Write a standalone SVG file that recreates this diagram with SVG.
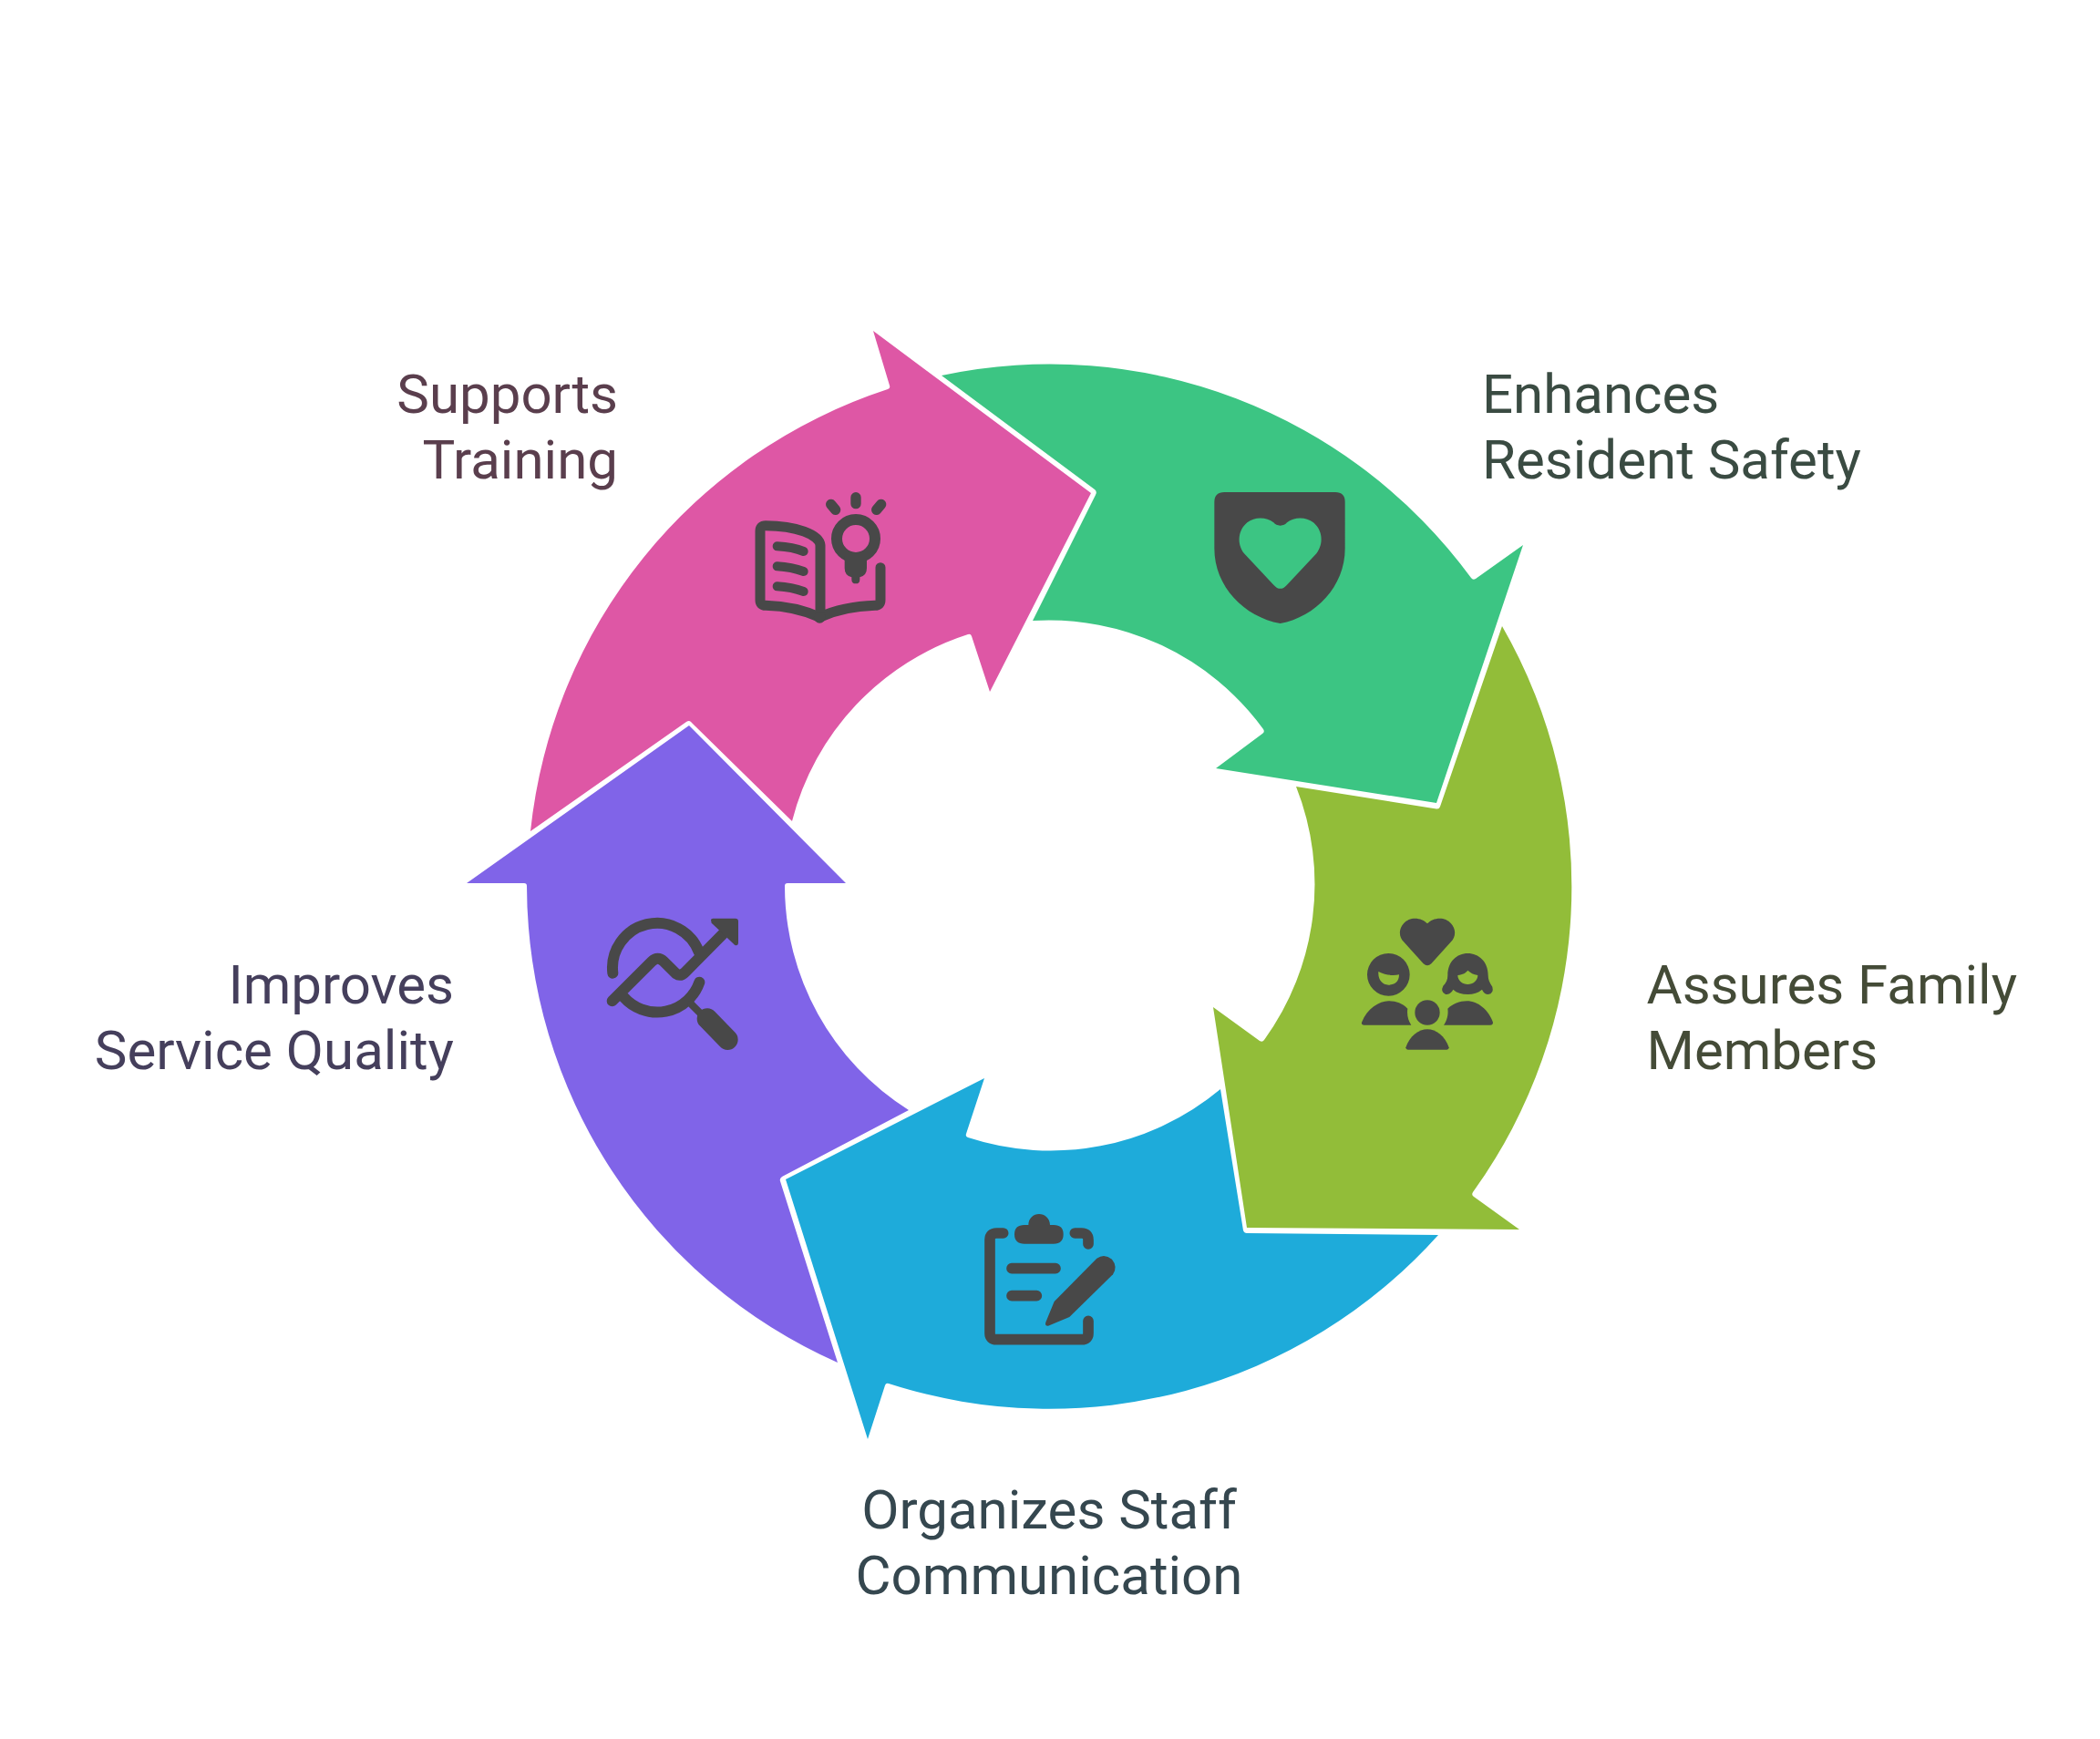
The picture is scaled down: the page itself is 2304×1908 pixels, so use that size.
<svg xmlns="http://www.w3.org/2000/svg" width="2304" height="1908" viewBox="0 0 2304 1908">
<style>
.lbl{font-family:Roboto,"Liberation Sans",sans-serif;font-size:60px}
.ic{fill:#484848;fill-rule:evenodd}
.st{fill:none;stroke:#484848;stroke-linecap:round;stroke-linejoin:round}
</style>
<rect width="2304" height="1908" fill="#ffffff"/>
<g id="node-safety">
<path fill="#3CC583" d="M1614 634A573 573 0 0 0 1033 412L1201 537Q1204 539.500 1202 543L1133 681A291 291 0 0 1 1386 800Q1388 803 1385 805L1334 843L1576 881L1671 598L1619 635Q1616 637 1614 634Z"/>
<g transform="translate(1310 520) scale(.33333)"><path class="ic" d="M100 60H465Q497 60 497 92V245C497 370 400 470 284 492C165 470 67 370 67 245V92Q67 60 100 60ZM284 170Q270 170 262 160C240 142 200 140 175 160C145 185 140 230 165 262L262 365Q284 390 306 365L403 262C428 230 423 185 393 160C368 140 328 142 306 160Q298 170 284 170Z"/></g>
<text class="lbl" fill="#3A4B42" x="1626" y="453">Enhances</text>
<text class="lbl" fill="#3A4B42" x="1626" y="525">Resident Safety</text>
</g>
<g id="node-family">
<path fill="#92BD39" d="M1368 1347L1331 1105L1382 1142Q1385 1144 1387 1141A291 291 0 0 0 1422 863L1576 887.500Q1579 888 1580 885L1648 687A573 573 0 0 1 1616 1308Q1614 1311 1617 1313L1667 1349Z"/>
<g transform="translate(1480 990) scale(.33333)">
<path class="ic" d="M258 70C240 50 200 45 180 70C162 90 165 115 180 130L245 202Q258 214 271 202L336 130C351 115 354 90 336 70C316 45 276 50 258 70Z"/>
<path class="ic" d="M130 168A70 70 0 1 1 130 308A70 70 0 1 1 130 168ZM97 228C120 240 145 242 165 238C165 262 150 272 130 272C110 272 95 255 97 228Z"/>
<path class="ic" d="M42 395C60 350 100 325 130 325C155 325 175 332 193 350C190 370 195 390 205 404H50Q40 404 42 395Z"/>
<circle class="ic" cx="258" cy="363" r="41"/>
<path class="ic" d="M187 478C200 440 230 418 258 418C286 418 316 440 329 478Q329 485 322 485H194Q187 485 187 478Z"/>
<path class="ic" d="M312 404C322 390 328 370 325 350C340 335 365 325 388 325C425 325 460 355 474 395Q474 404 465 404Z"/>
<path class="ic" d="M325 240C325 195 355 168 391 168C427 168 458 195 458 240C458 255 463 265 472 278Q478 300 458 303Q445 303 438 287C425 298 410 303 391 303C372 303 355 298 343 287C335 303 322 303 318 303Q300 295 310 275C320 265 325 255 325 240ZM358 240C375 238 385 232 391 224C400 232 410 238 424 240C424 258 408 270 391 270C374 270 358 258 358 240Z"/>
</g>
<text class="lbl" fill="#444B37" x="1806.500" y="1101">Assures Family</text>
<text class="lbl" fill="#444B37" x="1806.500" y="1173">Members</text>
</g>
<g id="node-communication">
<path fill="#1EABDA" d="M862 1294L1080 1183L1060 1244Q1059 1247 1062 1248A291 291 0 0 0 1339 1195L1364 1350Q1365 1353 1368 1353L1578 1355A573 573 0 0 1 975 1518Q972 1517 971 1520L952 1579Z"/>
<g transform="translate(1060 1320) scale(.33333)">
<path class="st" stroke-width="35" d="M122 99H100Q78 99 78 121V428Q78 449 100 449H380Q402 449 402 428V388M358 99H380Q402 99 402 121V135M150 215H294M150 305H232"/>
<path class="ic" d="M205 72C205 50 222 36 240 36C258 36 276 50 276 72H288Q320 72 320 103Q320 134 288 134H192Q159 134 159 103Q159 72 192 72Z"/>
<path class="ic" d="M430 182Q455 165 480 185Q500 210 483 235L340 375L270 404Q258 405 262 392L290 324Z"/>
</g>
<text class="lbl" fill="#35474F" x="1151" y="1677" text-anchor="middle">Organizes Staff</text>
<text class="lbl" fill="#35474F" x="1151" y="1749" text-anchor="middle">Communication</text>
</g>
<g id="node-quality">
<path fill="#8064E8" d="M756 796L512 969H575Q578 969 578 972A573 573 0 0 0 919 1495L856 1296Q855 1293 858 1291L997 1218A291 291 0 0 1 861 972Q861 969 864 969H928Z"/>
<g transform="translate(650 990) scale(.33333)">
<path class="st" stroke-width="36" d="M67 233A147 147 0 0 1 351 165M103 312A147 147 0 0 0 352 263M65 325L195 195Q215 175 235 195L275 235Q290 245 305 230L428 106"/>
<path class="ic" d="M390 58Q390 53 397 53H470Q480 53 480 63V135Q478 145 468 140L392 68Z"/>
<path class="st" stroke-width="24" d="M325 335L375 385"/>
<path class="st" stroke-width="68" d="M378 383L445 452"/>
</g>
<text class="lbl" fill="#453F5C" x="498" y="1101" text-anchor="end">Improves</text>
<text class="lbl" fill="#453F5C" x="498" y="1173" text-anchor="end">Service Quality</text>
</g>
<g id="node-training">
<path fill="#DE57A5" d="M582 912A573 573 0 0 1 974 427Q977 426 976 423L958 363L1197 541L1086 759L1066 698Q1065 695 1062 696A291 291 0 0 0 869 901L758 792Q756 790 753 792Z"/>
<g transform="translate(800 520) scale(.33333)">
<path class="st" stroke-width="33" d="M300 470V235C298 200 220 170 120 170Q102 170 102 188V415Q102 433 120 433C190 435 250 450 298 472C345 450 410 435 480 433Q498 433 498 415V308"/>
<circle class="ic" cx="298" cy="472" r="19"/>
<path class="st" stroke-width="30" d="M158 238C190 240 220 245 245 255M158 304C190 306 220 312 245 321M158 370C190 372 220 378 245 387"/>
<circle cx="417" cy="213" r="63" fill="none" stroke="#484848" stroke-width="36"/>
<path class="ic" d="M380 270V310Q380 335 403 340V347Q403 361 417 361Q430 361 430 347V340Q453 335 453 310V270Z"/>
<path class="st" stroke-width="34" d="M417 77V98M335 100L350 118M500 100L485 118"/>
</g>
<text class="lbl" fill="#5A3E4D" x="678" y="453" text-anchor="end">Supports</text>
<text class="lbl" fill="#5A3E4D" x="678" y="525" text-anchor="end">Training</text>
</g>
</svg>
